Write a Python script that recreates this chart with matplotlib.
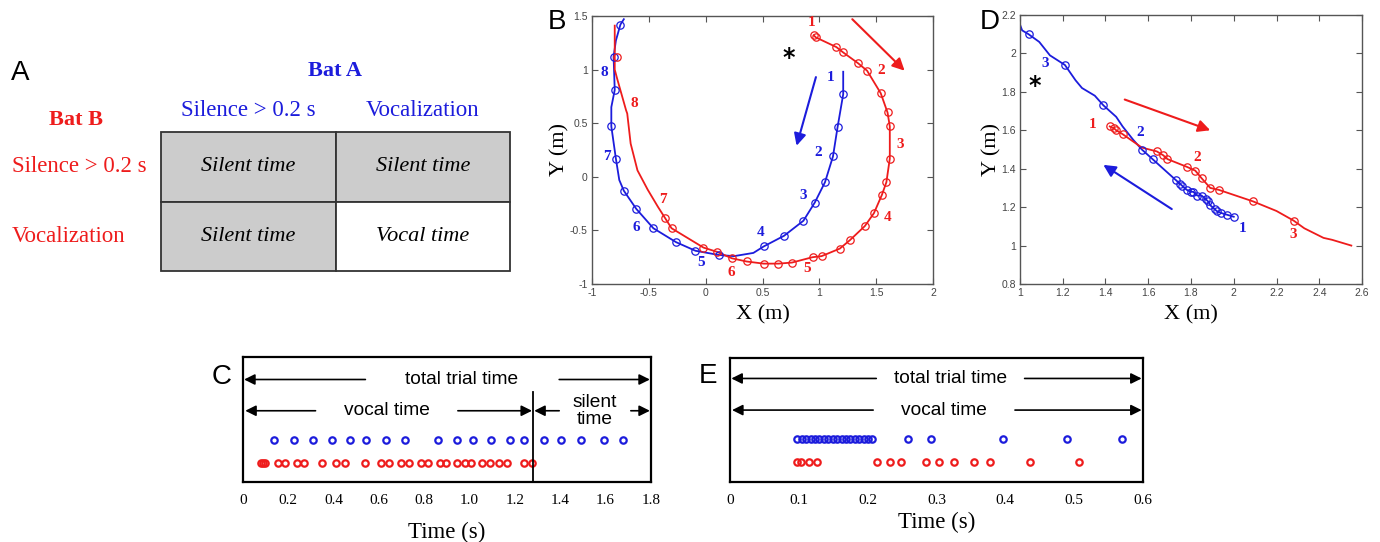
import numpy as np
import matplotlib
matplotlib.use("Agg")
import matplotlib.pyplot as plt
from matplotlib.patches import Rectangle

SERIF = ["Liberation Serif", "DejaVu Serif"]
SANS = ["Liberation Sans", "DejaVu Sans"]
RED = "#ee1c1c"
BLUE = "#1c1cdc"

# ---- panel A: decision table ----
col_labels = ["Silence > 0.2 s", "Vocalization"]
row_labels = ["Silence > 0.2 s", "Vocalization"]
cell_text = [["Silent time", "Silent time"],
             ["Silent time", "Vocal time"]]
cell_gray = [[True, True],
             [True, False]]

# ---- panel B: circling flight (Bat A blue, Bat B red) ----
b_blue_x = [1.21, 1.21, 1.16, 1.12, 1.05, 0.96, 0.86, 0.69, 0.51, 0.42, 0.25, 0.12,
            -0.09, -0.26, -0.46, -0.61, -0.72, -0.76, -0.79, -0.83, -0.83, -0.80,
            -0.81, -0.79, -0.75, -0.72]
b_blue_y = [0.98, 0.77, 0.46, 0.19, -0.05, -0.24, -0.41, -0.55, -0.65, -0.71, -0.74,
            -0.73, -0.69, -0.61, -0.48, -0.30, -0.13, -0.03, 0.17, 0.47, 0.65, 0.81,
            1.12, 1.27, 1.42, 1.47]
b_blue_mx = [1.21, 1.16, 1.12, 1.05, 0.96, 0.86, 0.69, 0.51, 0.12, -0.09, -0.26,
             -0.46, -0.61, -0.72, -0.79, -0.83, -0.80, -0.81, -0.75]
b_blue_my = [0.77, 0.46, 0.19, -0.05, -0.24, -0.41, -0.55, -0.65, -0.73, -0.69,
             -0.61, -0.48, -0.30, -0.13, 0.17, 0.47, 0.81, 1.12, 1.42]

b_red_x = [0.95, 0.97, 1.15, 1.21, 1.34, 1.42, 1.54, 1.60, 1.62, 1.62, 1.59, 1.55,
           1.48, 1.40, 1.27, 1.18, 1.02, 0.94, 0.76, 0.64, 0.51, 0.36, 0.23, 0.10,
           -0.02, -0.30, -0.36, -0.42, -0.51, -0.60, -0.66, -0.69, -0.70, -0.78,
           -0.80, -0.80, -0.80]
b_red_y = [1.32, 1.30, 1.21, 1.16, 1.06, 0.99, 0.78, 0.60, 0.47, 0.17, -0.05, -0.17,
           -0.34, -0.46, -0.59, -0.67, -0.74, -0.75, -0.80, -0.81, -0.81, -0.79,
           -0.76, -0.70, -0.66, -0.48, -0.38, -0.28, -0.12, 0.06, 0.31, 0.59, 0.62,
           0.92, 1.00, 1.24, 1.41]
b_red_mx = [0.95, 0.97, 1.15, 1.21, 1.34, 1.42, 1.54, 1.60, 1.62, 1.62, 1.59, 1.55,
            1.48, 1.40, 1.27, 1.18, 1.02, 0.94, 0.76, 0.64, 0.51, 0.36, 0.23, 0.10,
            -0.02, -0.30, -0.36, -0.78]
b_red_my = [1.32, 1.30, 1.21, 1.16, 1.06, 0.99, 0.78, 0.60, 0.47, 0.17, -0.05,
            -0.17, -0.34, -0.46, -0.59, -0.67, -0.74, -0.75, -0.80, -0.81, -0.81,
            -0.79, -0.76, -0.70, -0.66, -0.48, -0.38, 1.12]

b_blue_lbl = [(1.10, 0.93, "1"), (0.99, 0.23, "2"), (0.86, -0.17, "3"), (0.48, -0.52, "4"),
              (-0.04, -0.80, "5"), (-0.61, -0.47, "6"), (-0.87, 0.19, "7"), (-0.89, 0.97, "8")]
b_red_lbl = [(0.93, 1.44, "1"), (1.54, 0.99, "2"), (1.71, 0.30, "3"), (1.60, -0.38, "4"),
             (0.89, -0.86, "5"), (0.23, -0.89, "6"), (-0.38, -0.21, "7"), (-0.63, 0.68, "8")]

# ---- panel D: following flight ----
d_blue_x = [2.00, 1.97, 1.94, 1.92, 1.91, 1.89, 1.88, 1.87, 1.85, 1.83, 1.81, 1.80,
            1.78, 1.76, 1.75, 1.73, 1.62, 1.57, 1.53, 1.48, 1.45, 1.39, 1.35, 1.29,
            1.26, 1.21, 1.14, 1.09, 1.04, 1.01, 1.00]
d_blue_y = [1.15, 1.16, 1.17, 1.18, 1.19, 1.21, 1.23, 1.24, 1.26, 1.26, 1.28, 1.28,
            1.29, 1.31, 1.32, 1.34, 1.45, 1.50, 1.55, 1.62, 1.67, 1.73, 1.78, 1.82,
            1.86, 1.94, 1.99, 2.06, 2.10, 2.12, 2.15]
d_blue_mx = [2.00, 1.97, 1.94, 1.92, 1.91, 1.89, 1.88, 1.87, 1.85, 1.83, 1.81, 1.80,
             1.78, 1.76, 1.75, 1.73, 1.62, 1.57, 1.39, 1.21, 1.04]
d_blue_my = [1.15, 1.16, 1.17, 1.18, 1.19, 1.21, 1.23, 1.24, 1.26, 1.26, 1.28, 1.28,
             1.29, 1.31, 1.32, 1.34, 1.45, 1.50, 1.73, 1.94, 2.10]

d_red_x = [1.42, 1.44, 1.45, 1.48, 1.57, 1.64, 1.67, 1.69, 1.78, 1.82, 1.85, 1.89,
           1.93, 2.09, 2.20, 2.28, 2.33, 2.42, 2.46, 2.55]
d_red_y = [1.62, 1.61, 1.60, 1.58, 1.51, 1.49, 1.47, 1.45, 1.41, 1.39, 1.35, 1.30,
           1.29, 1.23, 1.18, 1.13, 1.09, 1.04, 1.03, 1.00]
d_red_mx = [1.42, 1.44, 1.45, 1.48, 1.64, 1.67, 1.69, 1.78, 1.82, 1.85, 1.89, 1.93,
            2.09, 2.28]
d_red_my = [1.62, 1.61, 1.60, 1.58, 1.49, 1.47, 1.45, 1.41, 1.39, 1.35, 1.30, 1.29,
            1.23, 1.13]

d_blue_lbl = [(2.04, 1.09, "1"), (1.56, 1.59, "2"), (1.12, 1.95, "3")]
d_red_lbl = [(1.34, 1.63, "1"), (1.83, 1.46, "2"), (2.28, 1.06, "3")]

# ---- panel C / E: call times (s) ----
c_blue_t = [0.136, 0.227, 0.308, 0.393, 0.474, 0.544, 0.633, 0.714, 0.862, 0.944,
            1.013, 1.093, 1.178, 1.241, 1.326, 1.403, 1.492, 1.593, 1.677]
c_red_t = [0.081, 0.090, 0.099, 0.156, 0.185, 0.240, 0.271, 0.348, 0.412, 0.452,
           0.538, 0.607, 0.644, 0.696, 0.733, 0.785, 0.815, 0.867, 0.896, 0.945,
           0.978, 1.007, 1.056, 1.089, 1.129, 1.163, 1.241, 1.274]
c_vocal_end = 1.28
c_total = 1.8

e_blue_t = [0.097, 0.104, 0.110, 0.117, 0.123, 0.130, 0.136, 0.143, 0.149, 0.156,
            0.162, 0.169, 0.175, 0.182, 0.188, 0.195, 0.201, 0.207, 0.258, 0.292,
            0.397, 0.489, 0.569]
e_red_t = [0.097, 0.103, 0.115, 0.127, 0.214, 0.232, 0.249, 0.285, 0.303, 0.325,
           0.355, 0.378, 0.436, 0.507]
e_total = 0.6

W, H = 1380, 542
fig = plt.figure(figsize=(W / 100, H / 100), dpi=100)


def px_axes(l, t, r, b):
    return fig.add_axes([l / W, 1 - b / H, (r - l) / W, (b - t) / H])


# overlay for panel A and panel letters (pixel coordinates)
ov = fig.add_axes([0, 0, 1, 1])
ov.set_xlim(0, W)
ov.set_ylim(H, 0)
ov.axis("off")

for lab, x, y in [("A", 20, 73), ("B", 557, 22), ("D", 990, 22), ("C", 222, 377), ("E", 708, 376)]:
    ov.text(x, y, lab, family=SANS, fontsize=20, ha="center", va="center")

tl, tr, tt, tb = 161, 510, 132, 271
cw = (tr - tl) / 2
ch = (tb - tt) / 2
for i in range(2):
    for j in range(2):
        x0, y0 = tl + j * cw, tt + i * ch
        ov.add_patch(Rectangle((x0, y0), cw, ch, facecolor="#cccccc" if cell_gray[i][j] else "white",
                               edgecolor="#333333", lw=1.3))
        ov.text(x0 + cw / 2, y0 + ch / 2, cell_text[i][j], family=SERIF, style="italic",
                fontsize=16, ha="center", va="center")
ov.text(tl + cw, 71, "Bat A", family=SERIF, weight="bold", color=BLUE, fontsize=16,
        ha="center", va="center")
for j, s in enumerate(col_labels):
    ov.text(tl + cw * (j + 0.5), 111, s, family=SERIF, color=BLUE,
            fontsize=16.5, ha="center", va="center")
ov.text(76, 120, "Bat B", family=SERIF, weight="bold", color=RED, fontsize=16,
        ha="center", va="center")
for i, s in enumerate(row_labels):
    ov.text(12, tt + ch * (i + 0.5), s, family=SERIF, color=RED, fontsize=16.5,
            ha="left", va="center")


def style_track(ax, xt, yt):
    ax.set_xticks(xt)
    ax.set_yticks(yt)
    ax.set_xticklabels([f"{v:g}" for v in xt], family=SANS, fontsize=7.5, color="#444444")
    ax.set_yticklabels([f"{v:g}" for v in yt], family=SANS, fontsize=7.5, color="#444444")
    ax.tick_params(direction="in", top=True, right=True, length=4, width=0.8,
                   color="#555555", pad=3)
    for s in ax.spines.values():
        s.set_color("#555555")
        s.set_linewidth(1.0)
    ax.set_xlabel("X (m)", family=SERIF, fontsize=16, labelpad=5)
    ax.set_ylabel("Y (m)", family=SERIF, fontsize=16, labelpad=0)


def arrow(ax, x0, y0, x1, y1, color):
    ax.annotate("", xy=(x1, y1), xytext=(x0, y0),
                arrowprops=dict(arrowstyle="-|>", color=color, lw=1.5, mutation_scale=18,
                                shrinkA=0, shrinkB=0))


mk = dict(marker="o", ms=5.3, mfc="none", mew=0.9, ls="none")

# ---- B ----
axb = px_axes(592, 16, 933, 284)
axb.plot(b_blue_x, b_blue_y, color=BLUE, lw=1.3)
axb.plot(b_red_x, b_red_y, color=RED, lw=1.3)
axb.plot(b_blue_mx, b_blue_my, color=BLUE, **mk)
axb.plot(b_red_mx, b_red_my, color=RED, **mk)
for x, y, s in b_blue_lbl:
    axb.text(x, y, s, color=BLUE, family=SERIF, weight="bold", fontsize=11, ha="center", va="center")
for x, y, s in b_red_lbl:
    axb.text(x, y, s, color=RED, family=SERIF, weight="bold", fontsize=11, ha="center", va="center")
axb.text(0.73, 1.11, "*", fontsize=17, weight="bold", ha="center", va="center")
arrow(axb, 1.29, 1.47, 1.75, 0.99, RED)
arrow(axb, 0.97, 0.93, 0.80, 0.29, BLUE)
axb.set_xlim(-1, 2)
axb.set_ylim(-1, 1.5)
style_track(axb, [-1, -0.5, 0, 0.5, 1, 1.5, 2], [-1, -0.5, 0, 0.5, 1, 1.5])

# ---- D ----
axd = px_axes(1020, 15, 1362, 284)
axd.plot(d_blue_x, d_blue_y, color=BLUE, lw=1.3)
axd.plot(d_red_x, d_red_y, color=RED, lw=1.3)
axd.plot(d_blue_mx, d_blue_my, color=BLUE, **mk)
axd.plot(d_red_mx, d_red_my, color=RED, **mk)
for x, y, s in d_blue_lbl:
    axd.text(x, y, s, color=BLUE, family=SERIF, weight="bold", fontsize=11, ha="center", va="center")
for x, y, s in d_red_lbl:
    axd.text(x, y, s, color=RED, family=SERIF, weight="bold", fontsize=11, ha="center", va="center")
axd.text(1.07, 1.83, "*", fontsize=17, weight="bold", ha="center", va="center")
arrow(axd, 1.49, 1.76, 1.89, 1.60, RED)
arrow(axd, 1.71, 1.19, 1.39, 1.42, BLUE)
axd.set_xlim(1, 2.6)
axd.set_ylim(0.8, 2.2)
style_track(axd, [1, 1.2, 1.4, 1.6, 1.8, 2, 2.2, 2.4, 2.6],
            [0.8, 1, 1.2, 1.4, 1.6, 1.8, 2, 2.2])


def span(ax, x0, x1, y, gap0, gap1, label=None, tx=None):
    # double-headed arrow drawn as two halves with a gap for the text
    ax.annotate("", xy=(x0, y), xytext=(gap0, y),
                arrowprops=dict(arrowstyle="-|>", color="black", lw=1.2, mutation_scale=16,
                                shrinkA=0, shrinkB=0))
    ax.annotate("", xy=(x1, y), xytext=(gap1, y),
                arrowprops=dict(arrowstyle="-|>", color="black", lw=1.2, mutation_scale=16,
                                shrinkA=0, shrinkB=0))
    if label:
        ax.text(tx, y, label, family=SANS, fontsize=13.8, ha="center", va="center")


def style_time(ax, xt, fmt, lpad):
    ax.set_yticks([])
    ax.set_ylim(0, 1)
    ax.set_xticks(xt)
    ax.set_xticklabels([fmt.format(v) if v else "0" for v in xt], family=SERIF, fontsize=11)
    ax.tick_params(axis="x", length=0, pad=9)
    for s in ax.spines.values():
        s.set_linewidth(1.6)
    ax.set_xlabel("Time (s)", family=SERIF, fontsize=16.5, labelpad=lpad)


cm = dict(marker="o", ms=4.6, mfc="none", mew=1.6, ls="none")

# ---- C ----
axc = px_axes(243, 357, 651, 482)
axc.plot(c_blue_t, [0.34] * len(c_blue_t), color=BLUE, **cm)
axc.plot(c_red_t, [0.15] * len(c_red_t), color=RED, **cm)
axc.plot([c_vocal_end, c_vocal_end], [0, 0.72], color="black", lw=1.3)
span(axc, 0.005, c_total - 0.005, 0.82, 0.54, 1.395, "total trial time", 0.965)
span(axc, 0.01, c_vocal_end - 0.005, 0.57, 0.32, 0.948, "vocal time", 0.633)
span(axc, c_vocal_end + 0.005, c_total - 0.005, 0.57, 1.395, 1.711)
axc.text(1.551, 0.57, "silent\ntime", family=SANS, fontsize=13.8, ha="center", va="center",
         linespacing=1.0)
axc.set_xlim(0, 1.8)
style_time(axc, [0, 0.2, 0.4, 0.6, 0.8, 1.0, 1.2, 1.4, 1.6, 1.8], "{:.1f}", 10)

# ---- E ----
axe = px_axes(730, 358, 1143, 482)
axe.plot(e_blue_t, [0.345] * len(e_blue_t), color=BLUE, **cm)
axe.plot(e_red_t, [0.16] * len(e_red_t), color=RED, **cm)
span(axe, 0.002, e_total - 0.002, 0.835, 0.2125, 0.428, "total trial time", 0.32)
span(axe, 0.003, e_total - 0.002, 0.58, 0.208, 0.414, "vocal time", 0.311)
axe.set_xlim(0, 0.6)
style_time(axe, [0, 0.1, 0.2, 0.3, 0.4, 0.5, 0.6], "{:.1f}", 3)

fig.savefig("out.png", dpi=100)
